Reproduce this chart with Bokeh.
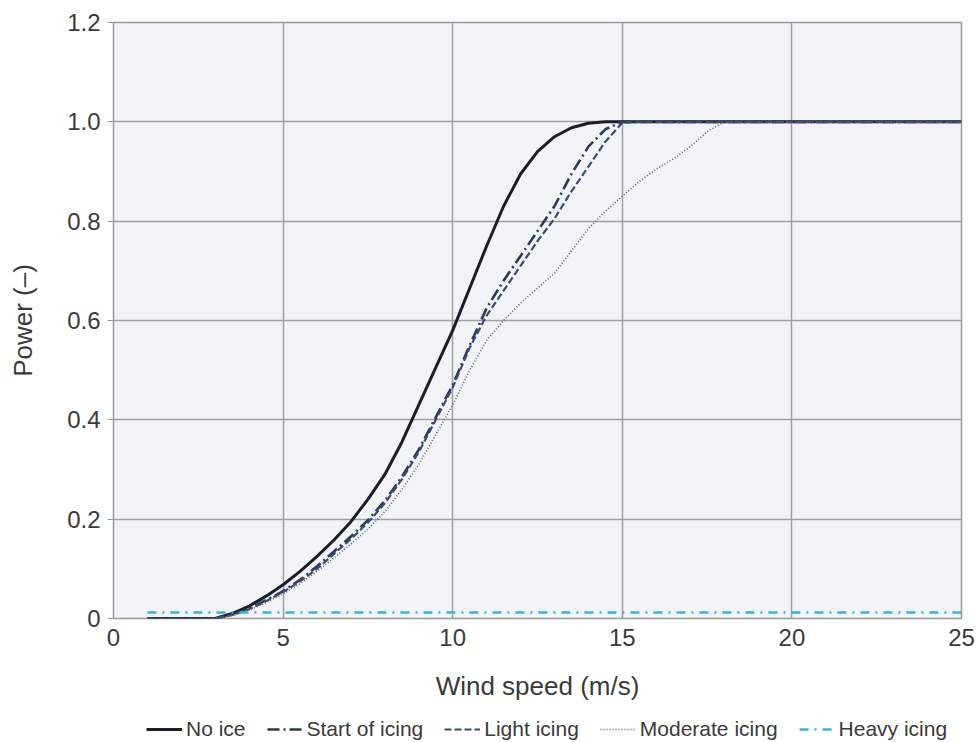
from bokeh.plotting import figure
from bokeh.layouts import column
from bokeh.models import Legend, LegendItem, FixedTicker, CustomJSTickFormatter
from bokeh.embed import file_html
from bokeh.resources import INLINE

# ---- data ----
x_no_ice = [1, 2, 3, 3.5, 4, 4.5, 5, 5.5, 6, 6.5, 7, 7.5, 8, 8.5, 9, 9.5, 10, 10.5, 11, 11.5,
            12, 12.5, 13, 13.5, 14, 14.5, 15, 20, 25]
y_no_ice = [0, 0, 0, 0.01, 0.025, 0.045, 0.068, 0.095, 0.125, 0.158, 0.195, 0.24, 0.29, 0.355,
            0.43, 0.505, 0.58, 0.665, 0.75, 0.83, 0.895, 0.94, 0.97, 0.988, 0.997, 1.0, 1.0,
            1.0, 1.0]

x_start = [1, 2, 3, 3.5, 4, 4.5, 5, 5.5, 6, 6.5, 7, 7.5, 8, 8.5, 9, 9.5, 10, 10.5, 11, 11.5,
           12, 12.5, 13, 13.5, 14, 14.5, 15, 20, 25]
y_start = [0, 0, 0, 0.008, 0.02, 0.037, 0.055, 0.078, 0.105, 0.135, 0.165, 0.198, 0.237, 0.285,
           0.34, 0.405, 0.47, 0.55, 0.625, 0.68, 0.73, 0.78, 0.83, 0.895, 0.95, 0.985, 1.0, 1.0, 1.0]

x_light = [1, 2, 3, 3.5, 4, 4.5, 5, 5.5, 6, 6.5, 7, 7.5, 8, 8.5, 9, 9.5, 10, 10.5, 11, 11.5,
           12, 12.5, 13, 13.5, 14, 14.5, 15, 15.5, 20, 25]
y_light = [0, 0, 0, 0.007, 0.019, 0.035, 0.053, 0.075, 0.1, 0.13, 0.16, 0.193, 0.232, 0.28,
           0.335, 0.4, 0.465, 0.545, 0.61, 0.66, 0.71, 0.76, 0.805, 0.86, 0.91, 0.96, 0.998, 1.0,
           1.0, 1.0]

x_moderate = [1, 2, 3, 3.5, 4, 4.5, 5, 5.5, 6, 6.5, 7, 7.5, 8, 8.5, 9, 9.5, 10, 10.5, 11, 11.5,
              12, 12.5, 13, 13.5, 14, 14.5, 15, 15.5, 16, 16.5, 17, 17.5, 18, 20, 25]
y_moderate = [0, 0, 0, 0.006, 0.017, 0.032, 0.05, 0.07, 0.095, 0.122, 0.15, 0.18, 0.215, 0.26,
              0.31, 0.37, 0.43, 0.5, 0.56, 0.6, 0.635, 0.665, 0.695, 0.74, 0.785, 0.82, 0.85,
              0.88, 0.905, 0.925, 0.95, 0.98, 1.0, 1.0, 1.0]

x_heavy = [1, 25]
y_heavy = [0.012, 0.012]

x_ticks = [0, 5, 10, 15, 20, 25]
y_ticks = [0, 0.2, 0.4, 0.6, 0.8, 1.0, 1.2]

series_labels = ["No ice", "Start of icing", "Light icing", "Moderate icing", "Heavy icing"]

FONT = "Liberation Sans"
TXT = "#3a3a3a"

p = figure(width=979, height=708, output_backend="svg", toolbar_location=None,
           x_range=(0, 25), y_range=(0, 1.2),
           min_border_left=113, min_border_right=18, min_border_top=22, min_border_bottom=90,
           x_axis_label="Wind speed (m/s)", y_axis_label="Power (\u2013)")

p.background_fill_color = "#f2f3f6"
p.border_fill_color = "white"
p.outline_line_color = "#9a9a9a"
p.outline_line_width = 1.5

for g in (p.xgrid[0], p.ygrid[0]):
    g.grid_line_color = "#9e9e9e"
    g.grid_line_width = 1.5

p.xaxis.ticker = FixedTicker(ticks=x_ticks)
p.yaxis.ticker = FixedTicker(ticks=y_ticks)
p.yaxis.formatter = CustomJSTickFormatter(code="return tick == 0 ? '0' : tick.toFixed(1);")

for ax in (p.xaxis[0], p.yaxis[0]):
    ax.axis_line_color = None
    ax.major_tick_line_color = "#9a9a9a"
    ax.major_tick_in = 0
    ax.major_tick_out = 6
    ax.minor_tick_line_color = None
    ax.major_label_text_font = FONT
    ax.major_label_text_font_size = "24px"
    ax.major_label_text_color = TXT
    ax.axis_label_text_font = FONT
    ax.axis_label_text_font_size = "26px"
    ax.axis_label_text_font_style = "normal"
    ax.axis_label_text_color = TXT
p.xaxis.major_tick_line_color = None
p.xaxis.major_label_standoff = 4
p.xaxis.axis_label_standoff = 22
p.yaxis.major_label_standoff = 7
p.yaxis.axis_label_standoff = 26

styles = [
    dict(line_color="#1b1d28", line_width=3.0),
    dict(line_color="#2c3a56", line_width=2.6, line_dash="12 4 2 4"),
    dict(line_color="#3b4c72", line_width=2.2, line_dash="7 3"),
    dict(line_color="#5a6270", line_width=1.6, line_dash="1 2"),
    dict(line_color="#3cb2cc", line_width=2.6, line_dash="9 6 2 6"),
]
xs = [x_no_ice, x_start, x_light, x_moderate, x_heavy]
ys = [y_no_ice, y_start, y_light, y_moderate, y_heavy]
for xv, yv, st in zip(xs, ys, styles):
    p.line(xv, yv, **st)

# legend strip below the chart (its series lie outside its own ranges, only the key shows)
p2 = figure(width=979, height=34, output_backend="svg", toolbar_location=None,
            x_range=(100, 101), y_range=(100, 101), x_axis_type=None, y_axis_type=None,
            min_border_left=0, min_border_right=0, min_border_top=0, min_border_bottom=0)
p2.outline_line_color = None
p2.grid.visible = False
items = []
for lab, xv, yv, st in zip(series_labels, xs, ys, styles):
    r = p2.line(xv, yv, **st)
    items.append(LegendItem(label=lab, renderers=[r]))

legend = Legend(items=items, orientation="horizontal", location=(33, 1))
legend.label_text_font = FONT
legend.label_text_font_size = "21px"
legend.label_text_color = TXT
legend.glyph_width = 36
legend.glyph_height = 20
legend.spacing = 21
legend.label_standoff = 4
legend.border_line_color = None
legend.background_fill_alpha = 0
legend.padding = 1
legend.margin = 0
p2.add_layout(legend)

layout = column(p, p2, spacing=0)
open("out.html", "w").write(file_html(layout, INLINE))
